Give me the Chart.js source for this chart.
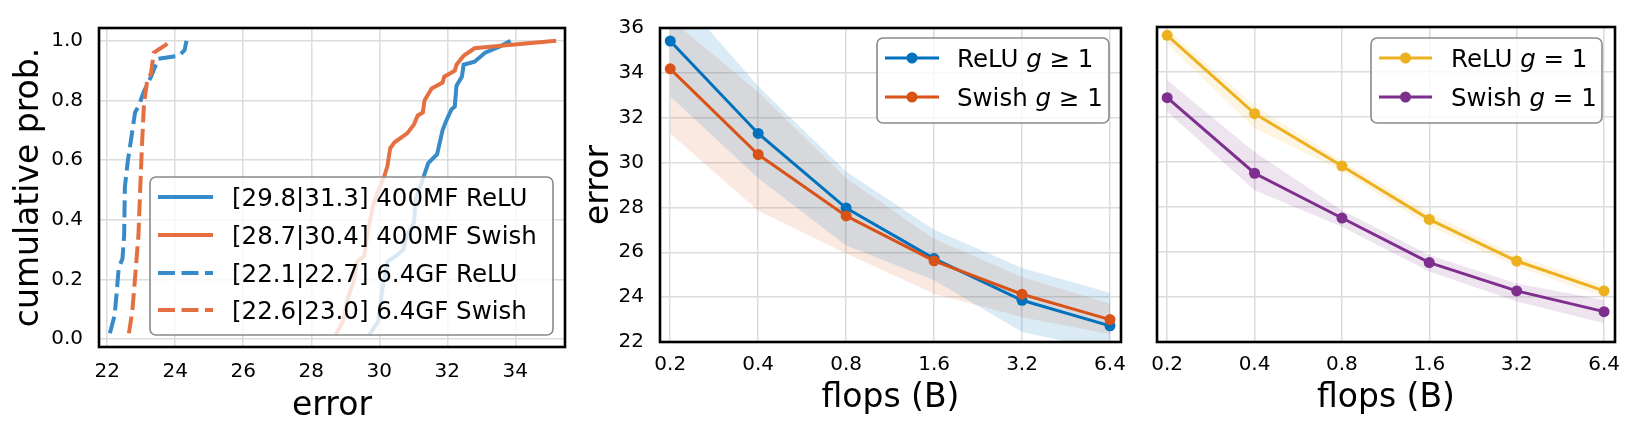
<!DOCTYPE html>
<html>
<head>
<meta charset="utf-8">
<script src="https://cdn.jsdelivr.net/npm/chart.js@4.4.0/dist/chart.umd.min.js"></script>
<style>
  html, body { margin: 0; padding: 0; background: #fff; }
  #wrap { position: relative; width: 1634px; height: 423px; overflow: hidden; }
  #wrap canvas { position: absolute; top: 0; }
</style>
</head>
<body>
<div id="wrap">
  <canvas id="cdfChart" width="570" height="423" style="left:0px"></canvas>
  <canvas id="anyGChart" width="570" height="423" style="left:570px"></canvas>
  <canvas id="g1Chart" width="494" height="423" style="left:1140px"></canvas>
</div>
<script>
// ---- panel 1: empirical CDFs of error ----
const errTicks = [22, 24, 26, 28, 30, 32, 34];
const probTicks = [0, 0.2, 0.4, 0.6, 0.8, 1.0];

const relu400Err  = [29.71, 29.97, 30.08, 30.24, 30.5, 30.71, 30.81, 31.02, 31.07, 31.23, 31.44, 31.7, 31.86, 31.96, 32.12, 32.22, 32.27, 32.43, 32.48, 32.8, 33.11, 33.53, 33.86];
const relu400Prob = [0.015, 0.06, 0.16, 0.26, 0.28, 0.30, 0.35, 0.39, 0.47, 0.52, 0.59, 0.62, 0.70, 0.73, 0.77, 0.78, 0.85, 0.88, 0.92, 0.93, 0.96, 0.98, 1.0];

const swish400Err  = [28.72, 28.93, 29.08, 29.24, 29.35, 29.56, 29.66, 29.82, 29.98, 30.13, 30.24, 30.32, 30.45, 30.82, 31.02, 31.13, 31.28, 31.33, 31.54, 31.86, 31.91, 32.22, 32.27, 32.48, 32.8, 33.74, 35.2];
const swish400Prob = [0.015, 0.06, 0.14, 0.19, 0.26, 0.28, 0.36, 0.45, 0.50, 0.54, 0.58, 0.64, 0.66, 0.69, 0.72, 0.75, 0.76, 0.80, 0.84, 0.86, 0.88, 0.90, 0.92, 0.95, 0.975, 0.985, 1.0];

const relu6Err  = [22.08, 22.22, 22.29, 22.34, 22.45, 22.5, 22.52, 22.61, 22.71, 22.82, 22.92, 23.08, 23.29, 23.5, 24.12, 24.28, 24.33];
const relu6Prob = [0.02, 0.08, 0.17, 0.24, 0.27, 0.35, 0.51, 0.60, 0.675, 0.76, 0.78, 0.83, 0.88, 0.94, 0.95, 0.97, 1.0];

const swish6Err  = [22.64, 22.74, 22.82, 22.92, 22.97, 23.02, 23.08, 23.18, 23.29, 23.37, 23.7, 23.89];
const swish6Prob = [0.02, 0.095, 0.205, 0.35, 0.5, 0.64, 0.785, 0.87, 0.89, 0.96, 0.985, 1.0];

const cdfLabels = ['[29.8|31.3] 400MF ReLU', '[28.7|30.4] 400MF Swish', '[22.1|22.7] 6.4GF ReLU', '[22.6|23.0] 6.4GF Swish'];

// ---- panels 2 and 3: error vs flops ----
const flops = [0.2, 0.4, 0.8, 1.6, 3.2, 6.4];
const errTicks2 = [22, 24, 26, 28, 30, 32, 34, 36];

const reluAnyG    = [35.42, 31.3, 27.97, 25.72, 23.86, 22.72];
const reluAnyGHi  = [37.9, 33.4, 29.6, 27.0, 25.3, 24.2];
const reluAnyGLo  = [32.95, 29.3, 26.3, 24.75, 22.45, 21.6];
const swishAnyG   = [34.18, 30.36, 27.62, 25.62, 24.13, 23.0];
const swishAnyGHi = [36.4, 33.15, 29.3, 26.6, 24.9, 23.7];
const swishAnyGLo = [31.3, 27.85, 25.95, 24.15, 23.1, 22.35];

const reluG1    = [35.63, 32.15, 29.82, 27.45, 25.6, 24.27];
const reluG1Hi  = [35.9, 32.5, 30.05, 27.75, 25.85, 24.5];
const reluG1Lo  = [35.25, 31.5, 29.6, 27.15, 25.35, 24.0];
const swishG1   = [32.86, 29.5, 27.51, 25.53, 24.27, 23.35];
const swishG1Hi = [33.63, 30.45, 27.86, 25.87, 24.6, 23.87];
const swishG1Lo = [32.23, 28.75, 27.12, 25.13, 23.8, 22.83];

// ---- styling ----
Chart.defaults.font.family = '"DejaVu Sans", sans-serif';
Chart.defaults.color = '#000';
const gridColor = '#dcdcdc';
const FONT = '"DejaVu Sans", sans-serif';
const LEGEND_SIZE = 24.5;
const TITLE_SIZE = 33;

function pts(xs, ys) {
    return xs.map((x, i) => ({ x: x, y: ys[i] }));
}

// black axes frame
const framePlugin = {
    id: 'frame',
    afterDraw(chart) {
        const a = chart.chartArea;
        const ctx = chart.ctx;
        ctx.save();
        ctx.strokeStyle = '#000';
        ctx.lineWidth = 2.6;
        ctx.strokeRect(a.left, a.top, a.right - a.left, a.bottom - a.top);
        ctx.restore();
    }
};

function roundRect(ctx, x, y, w, h, r) {
    ctx.beginPath();
    ctx.moveTo(x + r, y);
    ctx.lineTo(x + w - r, y);
    ctx.arcTo(x + w, y, x + w, y + r, r);
    ctx.lineTo(x + w, y + h - r);
    ctx.arcTo(x + w, y + h, x + w - r, y + h, r);
    ctx.lineTo(x + r, y + h);
    ctx.arcTo(x, y + h, x, y + h - r, r);
    ctx.lineTo(x, y + r);
    ctx.arcTo(x, y, x + r, y, r);
    ctx.closePath();
}

// legend drawn inside the plot, on top of the lines
function makeLegend(cfg) {
    return {
        id: 'insideLegend',
        afterDatasetsDraw(chart) {
            const ctx = chart.ctx;
            ctx.save();
            roundRect(ctx, cfg.box[0], cfg.box[1], cfg.box[2], cfg.box[3], 6);
            ctx.fillStyle = 'rgba(255,255,255,0.8)';
            ctx.fill();
            ctx.lineWidth = 1.6;
            ctx.strokeStyle = '#8a8a8a';
            ctx.stroke();
            cfg.items.forEach((it, i) => {
                const y = cfg.rows[i];
                ctx.beginPath();
                ctx.setLineDash(it.dash || []);
                ctx.strokeStyle = it.color;
                ctx.lineWidth = it.width;
                ctx.moveTo(cfg.lineX[0], y);
                ctx.lineTo(cfg.lineX[1], y);
                ctx.stroke();
                ctx.setLineDash([]);
                if (it.marker) {
                    ctx.beginPath();
                    ctx.arc((cfg.lineX[0] + cfg.lineX[1]) / 2, y, 5.5, 0, Math.PI * 2);
                    ctx.fillStyle = it.color;
                    ctx.fill();
                }
                let x = cfg.textX;
                ctx.fillStyle = '#000';
                ctx.textBaseline = 'alphabetic';
                it.parts.forEach(p => {
                    ctx.font = (p.italic ? 'italic ' : '') + LEGEND_SIZE + 'px ' + FONT;
                    ctx.fillText(p.text, x, y + 8.9);
                    x += ctx.measureText(p.text).width;
                });
            });
            ctx.restore();
        }
    };
}

function xAxisTitle(text, pad) {
    return { display: true, text: text, color: '#000', font: { size: TITLE_SIZE, lineHeight: 1 }, padding: { top: 0, bottom: pad } };
}

// ---- chart 1 ----
const blue1 = 'rgb(55, 139, 200)';
const orange1 = 'rgb(228, 112, 66)';
const dash = [17, 6.5];

new Chart(document.getElementById('cdfChart'), {
    type: 'line',
    data: {
        datasets: [
            { label: cdfLabels[0], data: pts(relu400Err, relu400Prob), borderColor: blue1, borderWidth: 4, pointRadius: 0, order: 4 },
            { label: cdfLabels[1], data: pts(swish400Err, swish400Prob), borderColor: orange1, borderWidth: 4, pointRadius: 0, order: 3 },
            { label: cdfLabels[2], data: pts(relu6Err, relu6Prob), borderColor: blue1, borderWidth: 4, borderDash: dash, pointRadius: 0, order: 2 },
            { label: cdfLabels[3], data: pts(swish6Err, swish6Prob), borderColor: orange1, borderWidth: 4, borderDash: dash, pointRadius: 0, order: 1 }
        ]
    },
    options: {
        responsive: false,
        animation: false,
        devicePixelRatio: 1,
        events: [],
        layout: { padding: { top: 21, right: 5, bottom: 0, left: 0 } },
        plugins: { legend: { display: false }, tooltip: { enabled: false } },
        scales: {
            x: {
                type: 'linear', min: 21.76, max: 35.46,
                afterBuildTicks: s => { s.ticks = errTicks.map(v => ({ value: v })); },
                afterFit: s => { s.height = 76; },
                grid: { color: gridColor, lineWidth: 1.5, drawTicks: false },
                border: { display: false },
                ticks: { font: { size: 20 }, color: '#000', padding: 13, maxRotation: 0, autoSkip: false },
                title: xAxisTitle('error', 0)
            },
            y: {
                type: 'linear', min: -0.026, max: 1.043,
                afterBuildTicks: s => { s.ticks = probTicks.map(v => ({ value: v })); },
                afterFit: s => { s.width = 99; },
                grid: { color: gridColor, lineWidth: 1.5, drawTicks: false },
                border: { display: false },
                ticks: { font: { size: 20 }, color: '#000', padding: 16, callback: v => v.toFixed(1) },
                title: { display: true, text: 'cumulative prob.', color: '#000', font: { size: TITLE_SIZE, lineHeight: 1 }, padding: { top: 13, bottom: 0 } }
            }
        }
    },
    plugins: [framePlugin, makeLegend({
        box: [150, 177, 403, 158],
        rows: [197, 235, 273, 310],
        lineX: [158, 213],
        textX: 232,
        items: [
            { color: blue1, width: 4, parts: [{ text: cdfLabels[0] }] },
            { color: orange1, width: 4, parts: [{ text: cdfLabels[1] }] },
            { color: blue1, width: 4, dash: dash, parts: [{ text: cdfLabels[2] }] },
            { color: orange1, width: 4, dash: dash, parts: [{ text: cdfLabels[3] }] }
        ]
    })]
});

// ---- charts 2 and 3 ----
function bandSets(hi, lo, fillColor) {
    return [
        { data: pts(flops, hi), borderWidth: 0, pointRadius: 0, fill: false, order: 10 },
        { data: pts(flops, lo), borderWidth: 0, pointRadius: 0, fill: '-1', backgroundColor: fillColor, order: 10 }
    ];
}

function lineSet(label, ys, color, order) {
    return {
        label: label, data: pts(flops, ys), borderColor: color, backgroundColor: color,
        borderWidth: 3, pointRadius: 5.5, pointBorderWidth: 0, fill: false, order: order
    };
}

function flopsOptions(showYLabels, yWidth) {
    return {
        responsive: false,
        animation: false,
        devicePixelRatio: 1,
        events: [],
        layout: { padding: { top: 27, right: 19, bottom: 0, left: 0 } },
        plugins: { legend: { display: false }, tooltip: { enabled: false } },
        scales: {
            x: {
                type: 'logarithmic', min: 0.1845, max: 6.98,
                afterBuildTicks: s => { s.ticks = flops.map(v => ({ value: v })); },
                afterFit: s => { s.height = 81; },
                grid: { color: gridColor, lineWidth: 1.5, drawTicks: false },
                border: { display: false },
                ticks: { font: { size: 20 }, color: '#000', padding: 11, maxRotation: 0, autoSkip: false, callback: v => String(v) },
                title: xAxisTitle('flops (B)', 8)
            },
            y: {
                type: 'linear', min: 22, max: 36,
                afterBuildTicks: s => { s.ticks = errTicks2.map(v => ({ value: v })); },
                afterFit: s => { s.width = yWidth; },
                grid: { color: gridColor, lineWidth: 1.5, drawTicks: false },
                border: { display: false },
                ticks: { display: showYLabels, font: { size: 20 }, color: '#000', padding: 16 },
                title: { display: showYLabels, text: 'error', color: '#000', font: { size: TITLE_SIZE, lineHeight: 1 }, padding: { top: 13, bottom: 0 } }
            }
        }
    };
}

const blue2 = '#0072BD';
const orange2 = '#D95319';
const yellow3 = '#EDB120';
const purple3 = '#7E2F8E';

new Chart(document.getElementById('anyGChart'), {
    type: 'line',
    data: {
        datasets: [
            lineSet('ReLU g≥1', reluAnyG, blue2, 2),
            lineSet('Swish g≥1', swishAnyG, orange2, 1)
        ].concat(bandSets(reluAnyGHi, reluAnyGLo, 'rgba(0,114,189,0.14)'))
         .concat(bandSets(swishAnyGHi, swishAnyGLo, 'rgba(217,83,25,0.13)'))
    },
    options: flopsOptions(true, 90),
    plugins: [framePlugin, makeLegend({
        box: [307, 38, 232, 85],
        rows: [58, 97],
        lineX: [315, 369],
        textX: 387,
        items: [
            { color: blue2, width: 3, marker: true, parts: [{ text: 'ReLU ' }, { text: 'g', italic: true }, { text: ' ≥ 1' }] },
            { color: orange2, width: 3, marker: true, parts: [{ text: 'Swish ' }, { text: 'g', italic: true }, { text: ' ≥ 1' }] }
        ]
    })]
});

new Chart(document.getElementById('g1Chart'), {
    type: 'line',
    data: {
        datasets: [
            lineSet('ReLU g=1', reluG1, yellow3, 2),
            lineSet('Swish g=1', swishG1, purple3, 1)
        ].concat(bandSets(reluG1Hi, reluG1Lo, 'rgba(237,177,32,0.13)'))
         .concat(bandSets(swishG1Hi, swishG1Lo, 'rgba(126,47,142,0.13)'))
    },
    options: flopsOptions(false, 12),
    plugins: [framePlugin, makeLegend({
        box: [231, 38, 231, 85],
        rows: [58, 97],
        lineX: [239, 292],
        textX: 311,
        items: [
            { color: yellow3, width: 3, marker: true, parts: [{ text: 'ReLU ' }, { text: 'g', italic: true }, { text: ' = 1' }] },
            { color: purple3, width: 3, marker: true, parts: [{ text: 'Swish ' }, { text: 'g', italic: true }, { text: ' = 1' }] }
        ]
    })]
});
</script>
</body>
</html>
